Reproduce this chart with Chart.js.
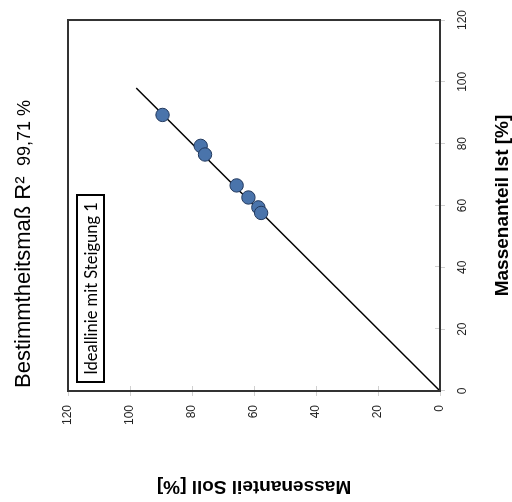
<!DOCTYPE html>
<html><head><meta charset="utf-8">
<script src="https://cdn.jsdelivr.net/npm/chart.js@4/dist/chart.umd.min.js"></script>
<style>
html,body{margin:0;padding:0;background:#fff;overflow:hidden;width:512px;height:502px;}
#wrap{position:absolute;left:0;top:0;width:502px;height:512px;transform-origin:0 0;transform:translate(0,502px) rotate(-90deg);}
canvas{display:block;}
</style></head><body>
<div id="wrap"><canvas id="c" width="502" height="512" style="width:502px;height:512px"></canvas></div>
<script>
// data (original orientation: x = Ist, y = Soll; whole chart is shown rotated 90° CCW)
const istValues  = [89.3, 79.3, 76.5, 66.5, 62.6, 59.4, 57.6];
const sollValues = [89.5, 77.2, 75.8, 65.6, 61.8, 58.6, 57.7];
const idealIst  = [0, 98];
const idealSoll = [0, 98];
const tickValues = [0, 20, 40, 60, 80, 100, 120];
const axisTitleIst = 'Massenanteil Ist [%]';
const axisTitleSoll = 'Massenanteil Soll [%]';
const r2Label = 'Bestimmtheitsmaß R²';
const r2Value = '99,71 %';
const legendLabel = 'Ideallinie mit Steigung 1';

const FONT = '"Liberation Sans", Arial, sans-serif';
const toPts = (xs, ys) => xs.map((x, i) => ({x: x, y: ys[i]}));

const extras = {
  id: 'extras',
  afterDatasetsDraw(chart) {
    const {ctx, chartArea: a, scales} = chart;
    ctx.save();
    // inner tick marks
    ctx.strokeStyle = '#d0d0d0'; ctx.lineWidth = 1;
    scales.x.ticks.forEach(t => {
      const px = Math.round(scales.x.getPixelForValue(t.value)) + 0.5;
      ctx.beginPath(); ctx.moveTo(px, a.bottom); ctx.lineTo(px, a.bottom - 5); ctx.stroke();
    });
    scales.y.ticks.forEach(t => {
      const py = Math.round(scales.y.getPixelForValue(t.value)) + 0.5;
      ctx.beginPath(); ctx.moveTo(a.left, py); ctx.lineTo(a.left + 5, py); ctx.stroke();
    });
    // frame
    ctx.strokeStyle = '#333'; ctx.lineWidth = 2;
    ctx.strokeRect(a.left, a.top, a.right - a.left, a.bottom - a.top);
    // legend box
    const bx = a.left + 9, by = a.top + 9, bw = 187, bh = 27;
    ctx.fillStyle = '#fff';
    ctx.fillRect(bx, by, bw, bh);
    ctx.strokeStyle = '#000'; ctx.lineWidth = 2;
    ctx.strokeRect(bx, by, bw, bh);
    ctx.fillStyle = '#000';
    ctx.font = '16.5px Lato, sans-serif';
    ctx.textBaseline = 'middle'; ctx.textAlign = 'center';
    ctx.fillText(legendLabel, bx + bw / 2, by + bh / 2 + 1);
    // R² annotation
    ctx.textBaseline = 'alphabetic';
    ctx.font = '22px ' + FONT;
    ctx.textAlign = 'left';
    ctx.fillText(r2Label, a.left + 3, 30);
    ctx.font = '18px ' + FONT;
    ctx.textAlign = 'right';
    ctx.fillText(r2Value, a.left + 291, 30);
    ctx.restore();
  }
};

const axisCommon = (title, pad) => ({
  type: 'linear', min: 0, max: 120,
  afterBuildTicks: s => { s.ticks = tickValues.map(v => ({value: v})); },
  grid: {display: true, drawOnChartArea: false, drawTicks: true, tickLength: 5, color: '#d0d0d0'},
  border: {display: true, color: '#333', width: 2},
  ticks: {font: {family: FONT, size: 12}, color: '#222', padding: pad},
  title: {display: true, text: title, color: '#000', font: {family: FONT, size: 19, weight: 'bold', lineHeight: 1}}
});

const xAxis = axisCommon(axisTitleIst, 10);
xAxis.title.padding = {top: 0, bottom: 0};
xAxis.afterFit = s => { s.height = 72; };
const yAxis = axisCommon(axisTitleSoll, 9);
yAxis.title.padding = {top: 6, bottom: 0};
yAxis.afterFit = s => { s.width = 111; };

new Chart(document.getElementById('c'), {
  type: 'scatter',
  data: {
    datasets: [
      {type: 'scatter', data: toPts(istValues, sollValues), order: 0,
       pointRadius: 6.7, pointBackgroundColor: '#4a74ab', pointBorderColor: '#22395e', pointBorderWidth: 1},
      {type: 'line', data: toPts(idealIst, idealSoll), order: 1,
       borderColor: '#000', borderWidth: 1.5, pointRadius: 0, fill: false, tension: 0}
    ]
  },
  options: {
    responsive: false, animation: false, devicePixelRatio: 1,
    layout: {padding: {top: 68, right: 12, bottom: 0, left: 0}},
    plugins: {legend: {display: false}, tooltip: {enabled: false}, title: {display: false}},
    scales: {x: xAxis, y: yAxis}
  },
  plugins: [extras]
});
</script>
</body></html>
